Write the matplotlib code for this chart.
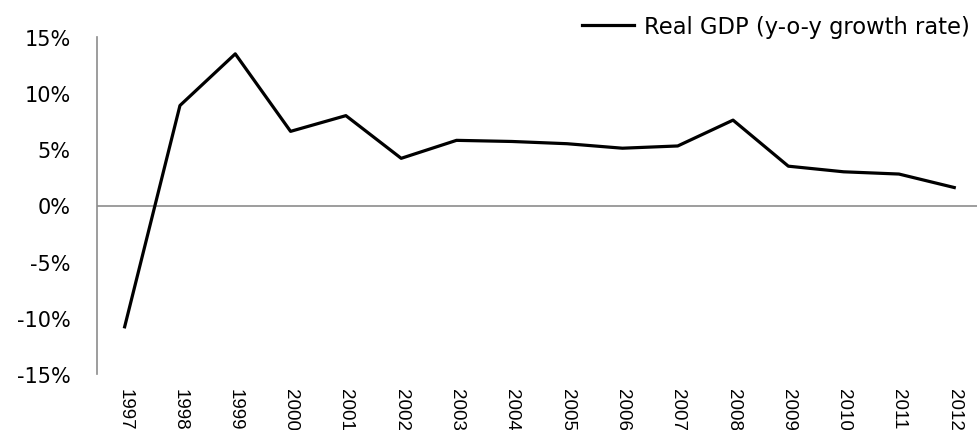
import matplotlib.pyplot as plt
from matplotlib.ticker import FuncFormatter

years = ['1997', '1998', '1999', '2000', '2001', '2002', '2003', '2004',
         '2005', '2006', '2007', '2008', '2009', '2010', '2011', '2012']
gdp_growth = [-10.8, 8.9, 13.5, 6.6, 8.0, 4.2, 5.8, 5.7,
              5.5, 5.1, 5.3, 7.6, 3.5, 3.0, 2.8, 1.6]

plt.rcParams['font.family'] = ['DejaVu Sans']

fig = plt.figure(figsize=(9.78, 4.31), dpi=100)
ax = fig.add_axes([97 / 978, 1 - 375 / 431, 1 - 97 / 978 + 0.004, (375 - 38) / 431])

x = list(range(len(years)))
ax.plot(x, gdp_growth, color='black', lw=2.3, label='Real GDP (y-o-y growth rate)')
ax.axhline(0, color='#8c8c8c', lw=1.2, zorder=0)

ax.set_ylim(-15, 15)
ax.set_yticks(range(-15, 16, 5))
ax.yaxis.set_major_formatter(FuncFormatter(lambda v, p: '%d%%' % v))
ax.set_xlim(-0.5, 15.5)
ax.set_xticks(x)
ax.set_xticklabels(years, rotation=270, family=['Liberation Sans', 'DejaVu Sans'], fontsize=13.5)

for s in ['top', 'right', 'bottom']:
    ax.spines[s].set_visible(False)
ax.spines['left'].set_color('#8c8c8c')
ax.spines['left'].set_linewidth(1.2)
ax.tick_params(axis='both', length=0)
ax.tick_params(axis='y', pad=19, labelsize=15)
ax.tick_params(axis='x', pad=10)

fig.legend(loc='upper right', bbox_to_anchor=(970 / 978, 1 - 16 / 431), frameon=False,
           fontsize=16.3, handlelength=2.3, handletextpad=0.45,
           borderpad=0, borderaxespad=0)

fig.savefig('out.png', dpi=100)
